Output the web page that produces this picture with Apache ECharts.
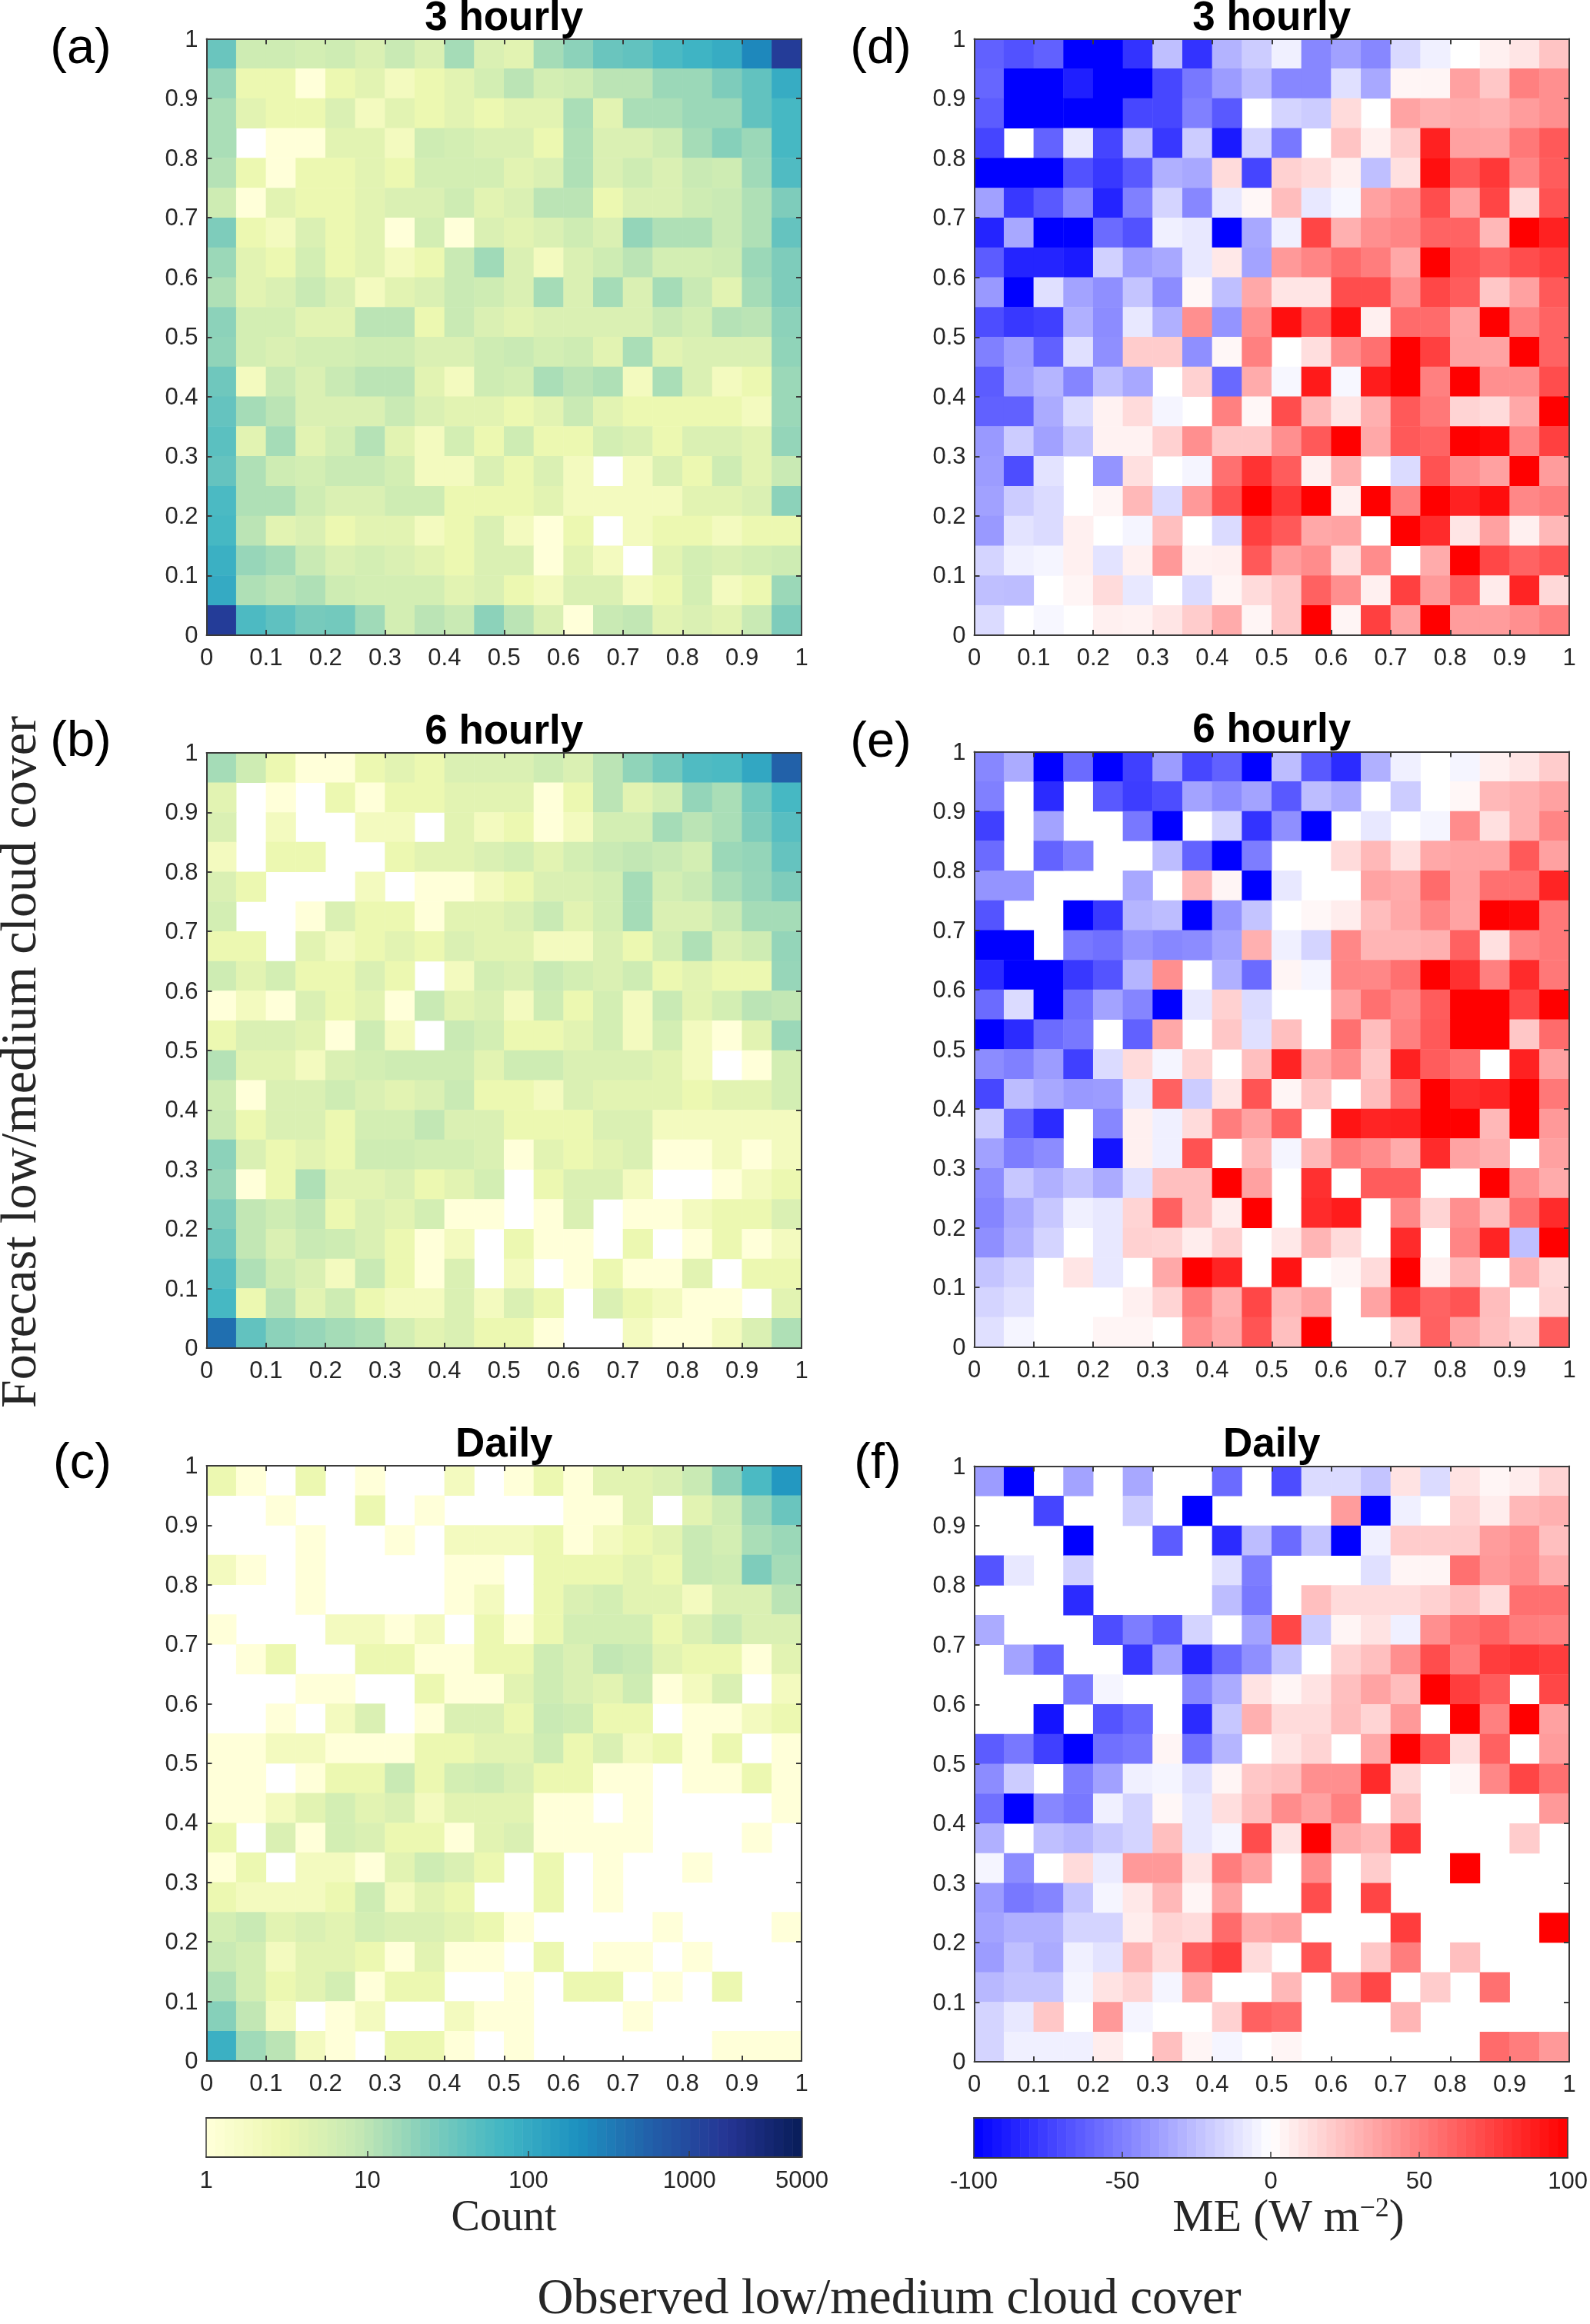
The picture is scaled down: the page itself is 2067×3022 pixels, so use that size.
<!DOCTYPE html>
<html><head><meta charset="utf-8">
<script src="https://cdn.jsdelivr.net/npm/echarts@6/dist/echarts.min.js"></script>
<style>html,body{margin:0;padding:0;background:#fff}#c{width:2067px;height:3022px}</style>
</head><body><div id="c"></div>
<script>
// bins (20 per axis, lower edges)
const binLabels = ['0','.05','.1','.15','.2','.25','.3','.35','.4','.45','.5','.55','.6','.65','.7','.75','.8','.85','.9','.95'];
const countTicks = [1,10,100,1000,5000];
const meTicks = [-100,-50,0,50,100];
const titles = ['3 hourly','6 hourly','Daily','3 hourly','6 hourly','Daily'];
const letters = ['(a)','(b)','(c)','(d)','(e)','(f)'];

// all rows run from forecast 0.95-1 (top) to 0-0.05 (bottom); 0 = empty cell
const count3h = [
[35,7,7,6,7,5,8,5,14,5,4,14,20,35,40,60,75,95,250,1400],
[17,3,3,1,3,4,2,3,4,6,10,6,7,10,10,16,16,25,40,95],
[13,4,3,3,5,2,4,3,4,3,4,4,13,4,13,13,16,16,40,65],
[13,0,1,1,4,4,2,7,6,5,5,3,12,5,5,7,14,22,16,65],
[11,3,1,3,3,4,3,6,6,6,4,5,12,5,7,5,8,7,15,55],
[7,1,4,3,3,4,5,5,7,4,5,10,10,3,5,5,7,8,12,25],
[25,3,2,5,3,4,1,6,1,5,4,5,7,5,18,12,12,8,12,38],
[16,4,3,6,3,4,2,3,8,15,5,2,5,7,10,6,6,7,16,25],
[12,4,5,8,5,2,4,5,8,7,5,14,5,14,5,14,8,4,14,25],
[20,6,6,4,4,10,10,3,8,5,4,5,5,5,5,8,6,11,10,20],
[19,6,5,6,6,7,7,5,5,7,8,6,7,4,13,4,5,5,5,19],
[32,2,8,5,8,10,10,4,2,7,6,13,10,12,2,13,5,2,3,16],
[38,14,10,5,5,5,8,5,4,4,3,4,8,4,3,3,3,3,2,16],
[45,4,14,4,6,11,4,2,6,3,7,3,3,6,5,3,5,5,4,18],
[38,12,7,6,8,8,6,2,2,5,3,5,2,0,2,5,3,7,4,8],
[60,12,12,7,5,5,7,7,3,3,3,4,2,2,2,2,4,4,5,20],
[65,10,4,5,3,4,4,2,3,5,2,1,3,0,2,3,3,2,3,3],
[85,17,14,8,5,6,5,4,3,5,5,1,4,2,0,4,6,5,6,7],
[100,12,10,12,7,6,6,6,4,5,3,2,5,5,2,3,6,2,3,16],
[1400,58,42,28,30,15,6,10,8,20,10,5,1,8,9,4,5,4,8,25]];

const count6h = [
[14,7,3,1,1,3,4,3,5,5,5,7,5,10,19,30,55,60,110,560],
[4,0,1,0,3,1,3,3,4,4,4,1,3,10,4,6,18,13,30,65],
[5,0,2,0,0,2,2,0,4,2,3,1,2,6,6,14,10,13,25,48],
[2,0,3,3,0,0,3,4,4,5,6,4,6,8,9,8,6,16,18,38],
[5,3,0,0,0,2,0,1,1,2,3,5,5,6,14,6,8,13,17,25],
[6,0,0,1,5,3,3,1,4,4,5,8,4,6,14,5,5,8,14,14],
[3,3,0,4,2,3,4,3,5,4,4,2,2,5,3,6,12,5,7,18],
[7,4,6,3,3,5,3,0,2,6,5,8,6,5,7,3,4,3,3,17],
[1,2,1,5,3,4,1,8,4,5,2,7,3,6,2,8,4,6,10,9],
[3,5,5,4,1,7,2,0,8,6,3,3,4,6,2,6,2,1,4,16],
[11,4,4,2,5,6,7,7,7,4,7,7,5,5,5,4,2,0,1,6],
[7,1,5,5,7,5,4,5,8,3,3,2,5,4,4,4,3,4,4,6],
[8,3,5,5,3,6,6,9,5,5,3,3,3,5,5,2,2,2,2,2],
[20,5,3,4,3,7,7,6,6,5,1,4,3,4,5,1,1,2,1,2],
[17,1,3,12,4,4,5,3,4,6,0,3,5,5,2,0,0,1,2,3],
[25,9,7,9,3,5,4,6,1,1,0,1,5,0,1,1,2,3,3,5],
[32,9,5,8,7,5,3,1,2,0,3,1,1,0,3,0,1,3,1,2],
[50,12,7,5,2,8,3,1,5,0,2,0,1,3,1,1,4,0,3,3],
[65,3,10,4,7,3,2,2,5,2,5,3,0,5,3,2,1,1,0,4],
[420,40,20,17,14,12,6,4,5,3,3,1,0,0,2,1,1,2,5,12]];

const countDaily = [
[3,1,0,3,0,1,0,0,2,0,1,3,1,4,4,5,8,20,60,170],
[0,0,1,0,0,3,0,1,0,0,0,0,1,1,4,0,4,7,17,35],
[0,0,0,1,0,0,1,0,2,2,2,3,1,2,3,4,8,6,13,16],
[2,1,0,1,0,0,0,0,1,1,0,3,3,3,4,3,8,7,25,14],
[0,0,0,1,0,0,0,0,1,2,0,3,5,6,4,4,2,5,5,10],
[1,0,0,0,2,2,1,2,0,3,1,3,6,6,6,3,5,8,5,5],
[0,1,3,0,0,3,3,1,1,3,3,7,5,9,8,4,3,3,1,4],
[0,0,0,1,1,0,0,3,1,1,4,7,5,4,7,1,2,5,0,2],
[0,0,1,0,2,5,0,1,5,5,3,8,7,3,3,0,1,1,2,3],
[1,1,2,2,1,1,1,3,3,4,4,7,3,5,2,3,1,3,0,1],
[1,1,0,1,3,3,8,3,6,7,5,3,3,1,1,0,1,1,3,1],
[1,1,2,4,6,4,5,2,4,4,4,1,1,0,1,0,0,0,0,1],
[3,0,5,1,6,5,3,3,1,4,5,1,1,1,1,0,0,0,1,0],
[1,3,0,2,2,1,4,7,5,3,0,3,0,1,0,0,1,0,0,0],
[3,2,2,2,3,7,2,4,3,0,0,3,0,1,0,0,0,0,0,0],
[6,8,4,5,4,6,5,5,4,3,1,0,0,0,0,1,0,0,0,1],
[8,6,2,4,4,3,1,4,1,1,0,3,0,1,1,0,1,0,0,0],
[12,6,3,4,6,1,3,3,0,0,1,0,3,3,0,1,0,3,0,0],
[22,9,2,0,1,2,0,0,2,1,1,0,0,0,1,0,0,0,0,0],
[85,15,10,2,1,0,3,3,1,0,1,0,0,0,0,0,0,1,1,1]];

const me3h = [
[-62,-68,-62,-100,-100,-80,-25,-80,-30,-20,-6,-47,-37,-47,-15,-6,0,6,10,23],
[-60,-100,-100,-88,-100,-100,-72,-53,-39,-27,-47,-47,-12,-34,4,4,37,22,50,44],
[-64,-100,-100,-100,-100,-72,-72,-50,-65,0,-17,-20,14,0,36,31,33,31,39,44],
[-73,0,-61,-9,-73,-25,-78,-20,-90,-17,-53,0,23,6,20,87,37,36,53,65],
[-100,-100,-100,-68,-78,-65,-31,-34,14,-73,18,14,6,-25,12,94,65,78,48,64],
[-37,-78,-65,-47,-86,-50,-17,-47,-9,3,26,-9,-3,37,44,70,37,73,14,68],
[-86,-34,-100,-100,-58,-68,-6,-9,-100,-34,-6,73,31,44,48,61,61,28,100,87],
[-64,-86,-86,-90,-18,-39,-34,-9,9,-36,40,48,58,51,34,100,68,61,70,75],
[-40,-100,-12,-36,-44,-23,-45,3,-25,34,10,10,70,70,44,72,64,22,37,65],
[-70,-78,-75,-31,-45,-9,-31,44,-42,44,94,64,94,6,58,58,36,100,50,61],
[-50,-39,-62,-12,-44,20,20,-44,3,50,0,13,45,56,100,75,37,36,100,61],
[-64,-37,-29,-48,-25,-34,0,18,-59,33,-3,90,-3,89,100,50,100,44,44,70],
[-62,-62,-33,-14,5,14,-4,0,50,3,70,28,10,31,65,53,17,14,34,100],
[-40,-20,-37,-23,5,5,18,44,22,22,44,65,100,34,65,61,100,97,48,75],
[-39,-70,-11,0,-42,12,0,-4,56,80,64,6,31,0,-14,68,45,37,100,39],
[-37,-20,-14,0,4,28,-14,40,68,100,78,100,6,100,50,100,87,95,47,51],
[-40,-11,-14,6,0,-4,25,0,-14,75,65,34,36,0,100,83,10,37,6,28],
[-17,-6,-4,6,-11,6,40,5,6,65,39,45,12,45,0,33,100,72,61,67],
[-25,-26,0,4,14,-9,0,-14,4,14,22,62,44,6,75,40,64,8,86,15],
[-14,0,-3,0,6,5,10,20,33,4,22,100,4,75,36,100,39,39,44,51]];

const me6h = [
[-47,-33,-100,-58,-100,-75,-39,-72,-62,-100,-26,-65,-83,-31,-6,0,-4,6,10,20],
[-50,0,-83,0,-65,-76,-70,-36,-45,-36,-65,-26,-33,0,-20,0,3,28,31,37],
[-75,0,-36,0,0,-53,-100,0,-17,-80,-44,-100,0,-9,0,-4,45,12,31,48],
[-58,0,-61,-50,0,0,-26,-61,-100,-51,0,0,14,28,12,34,36,36,65,37],
[-42,-42,0,0,0,-34,0,28,4,-100,-9,0,0,36,33,58,37,56,56,86],
[-67,0,0,-100,-78,-29,-26,-100,-42,-23,0,3,7,26,34,48,36,100,97,53],
[-100,-100,0,-53,-56,-42,-47,-45,-36,31,-6,-17,47,29,29,31,62,12,48,53],
[-83,-100,-100,-78,-67,-29,44,0,-31,-58,4,-4,48,47,56,100,81,50,83,53],
[-58,-14,-100,-56,-36,-48,-100,-9,18,-14,0,0,37,56,47,64,100,100,72,100],
[-100,-83,-58,-53,0,-62,34,0,22,-12,25,0,56,26,50,65,100,100,22,58],
[-45,-50,-39,-75,-14,14,-4,17,0,25,86,34,45,22,87,64,56,0,87,37],
[-72,-26,-34,-40,-39,-9,62,-20,10,67,4,22,0,26,56,100,83,86,100,53],
[-20,-61,-83,0,-47,6,-6,14,51,37,62,0,92,86,87,100,100,28,100,40],
[-37,-51,-45,0,-92,6,-6,68,0,28,-4,28,51,45,33,83,36,31,0,37],
[-45,-22,-31,-23,-33,-12,25,25,100,37,0,81,0,64,64,0,0,100,44,33],
[-48,-34,-22,-6,-9,17,62,25,7,100,0,83,89,0,47,17,44,26,56,83],
[-44,-31,-17,0,-9,18,17,7,18,0,9,29,14,0,83,0,48,86,-25,100],
[-23,-17,0,10,-9,0,34,100,86,0,92,0,4,14,100,6,28,0,31,15],
[-17,-12,0,0,0,6,17,51,31,72,28,36,0,36,76,61,67,26,0,17],
[-12,-4,0,0,4,4,0,44,34,67,25,100,0,0,20,62,37,25,18,64]];

const meDaily = [
[-39,-100,0,-36,0,-34,0,0,-58,0,-70,-14,-14,-23,11,-14,11,4,7,17],
[0,0,-73,0,0,-20,0,-100,0,0,0,0,39,-100,-6,0,17,7,28,31],
[0,0,0,-100,0,0,-64,0,-83,-26,-58,-23,-100,-6,20,20,20,39,44,25],
[-67,-9,0,-18,0,0,0,0,-12,-51,0,0,0,-12,4,4,56,40,45,33],
[0,0,0,-83,0,0,0,0,-26,-53,0,25,14,14,14,18,25,14,56,56],
[-33,0,0,0,-70,-51,-64,-17,0,-36,72,-20,4,11,-6,44,56,61,51,50],
[0,-36,-61,0,0,-78,-37,-86,-58,-44,-23,0,18,25,44,70,51,76,80,76],
[0,0,0,-53,-4,0,0,-47,-33,11,4,11,25,36,26,100,76,64,0,72],
[0,0,-92,0,-67,-59,0,-83,-22,31,14,14,26,17,40,0,100,50,100,37],
[-64,-53,-75,-100,-56,-53,4,-56,-29,0,10,17,0,34,100,70,13,62,0,39],
[-45,-20,0,-51,-37,-6,-4,-12,4,22,25,44,44,83,15,0,4,47,73,56],
[-56,-100,-47,-53,-6,-17,3,-9,13,25,45,37,50,0,26,0,0,0,0,40],
[-31,0,-25,-29,-22,-17,25,-9,-4,70,11,100,33,28,80,0,0,0,20,0],
[-4,-45,0,14,-8,40,40,11,51,37,0,45,0,20,0,0,100,0,0,0],
[-39,-53,-48,-23,-4,9,28,4,36,0,0,70,0,73,0,0,0,0,0,0],
[-36,-31,-31,-17,-17,7,17,14,58,33,37,0,0,0,76,0,0,0,0,100],
[-39,-25,-33,-6,-11,29,14,64,76,14,0,68,0,22,51,0,25,0,0,0],
[-28,-23,-23,-4,11,17,-4,33,0,0,28,0,45,72,0,20,0,56,0,0],
[-17,-9,22,0,40,-4,0,0,18,62,58,0,0,0,29,0,0,0,0,0],
[-17,-6,-6,-6,7,0,25,4,-4,0,4,0,0,0,0,0,0,58,51,40]];

const panelData = [count3h,count6h,countDaily,me3h,me6h,meDaily];
const panelBoxes = [
 {l:268.5,t:50.5,r:1042,b:826},{l:268.5,t:979,r:1042,b:1753},{l:268.5,t:1906,r:1042,b:2680},
 {l:1266.5,t:50.5,r:2040,b:826},{l:1266.5,t:977.5,r:2040,b:1751.5},{l:1266.5,t:1906.5,r:2040,b:2681}];
const titleBase = [-2,925.5,1852.5,-2,923.5,1852.5];
const letterPos = [[105,32],[105,933],[107,1872],[1145,32],[1145,934],[1141,1872]];
const ylgnbu = ['#ffffd9','#edf8b1','#c7e9b4','#7fcdbb','#41b6c4','#1d91c0','#225ea8','#253494','#081d58'];
const bwr = ['#0000ff','#ffffff','#ff0000'];
const LOGMAX = Math.log10(5000);
const INK = '#262626', LINE = '#3a3a3a';
const fmt = v => String(+(+v).toFixed(1));

const grid=[], xAxis=[], yAxis=[], series=[], title=[];
function hiddenCat(g,data){ return {type:'category',gridIndex:g,data,show:false,boundaryGap:true}; }
function boxAxis(g,pos,labels){
  const label={show:labels,color:INK,fontFamily:'Liberation Sans',fontSize:31,
      margin:pos==='left'?11:15,formatter:fmt,hideOverlap:false,showMinLabel:true,showMaxLabel:true};
  if(pos==='left'){ label.verticalAlign='top'; label.lineHeight=3; }
  return {type:'value',gridIndex:g,position:pos,min:0,max:1,interval:0.1,z:6,
    axisLine:{show:true,onZero:false,lineStyle:{color:LINE,width:2}},
    axisTick:{show:true,inside:true,length:7,lineStyle:{color:LINE,width:2}},
    splitLine:{show:false},axisLabel:label};
}
panelData.forEach((rows,g)=>{
  const b=panelBoxes[g];
  grid.push({left:b.l,top:b.t,width:b.r-b.l,height:b.b-b.t,containLabel:false,show:false});
  xAxis.push(hiddenCat(g,binLabels),boxAxis(g,'bottom',true),boxAxis(g,'top',false));
  yAxis.push(hiddenCat(g,binLabels),boxAxis(g,'left',true),boxAxis(g,'right',false));
  const data=[];
  rows.forEach((row,r)=>row.forEach((v,c)=>{
    if(v!==0) data.push([c,19-r,g<3?Math.log10(v):v]);
  }));
  series.push({type:'heatmap',xAxisIndex:3*g,yAxisIndex:3*g,data,silent:true,progressive:0,
    itemStyle:{borderWidth:0},emphasis:{disabled:true}});
  title.push({text:titles[g],left:(b.l+b.r)/2,top:titleBase[g],textAlign:'center',padding:0,
    textStyle:{fontFamily:'Liberation Sans',fontWeight:'bold',fontSize:53,color:'#000'}});
  title.push({text:letters[g],left:letterPos[g][0],top:letterPos[g][1],textAlign:'center',padding:0,
    textStyle:{fontFamily:'Liberation Sans',fontWeight:'normal',fontSize:65,color:'#000'}});
});

// colour bars: a 1-row heatmap per bar, with ticks on a value axis
const cbSteps = Array.from({length:64},(_,i)=>String(i));
const bars = [
 {l:268,r:1042.5,t:2754,b:2805,min:0,max:LOGMAX,ticks:countTicks.map(Math.log10),minor:[10,100,1000].map(Math.log10),
  label:v=>String(Math.round(Math.pow(10,v)))},
 {l:1266,r:2040.5,t:2754,b:2806,min:-100,max:100,ticks:meTicks,minor:[-50,0,50],label:v=>String(Math.round(v))}];
bars.forEach((c,i)=>{
  const g=6+i;
  grid.push({left:c.l,top:c.t,width:c.r-c.l,height:c.b-c.t,show:false});
  xAxis.push(hiddenCat(g,cbSteps),
   {type:'value',gridIndex:g,position:'bottom',min:c.min,max:c.max,z:6,
    axisLine:{show:true,onZero:false,lineStyle:{color:LINE,width:2}},
    axisTick:{show:true,inside:true,length:8,customValues:c.minor,lineStyle:{color:LINE,width:1.5}},
    splitLine:{show:false},
    axisLabel:{show:true,customValues:c.ticks,color:INK,fontFamily:'Liberation Sans',fontSize:31,margin:16,formatter:c.label,hideOverlap:false}},
   {type:'value',gridIndex:g,position:'top',min:c.min,max:c.max,z:6,
    axisLine:{show:true,onZero:false,lineStyle:{color:LINE,width:2}},axisTick:{show:false},axisLabel:{show:false},splitLine:{show:false}});
  yAxis.push(hiddenCat(g,['a']),
   {type:'value',gridIndex:g,position:'left',min:0,max:1,z:6,axisLine:{show:true,onZero:false,lineStyle:{color:LINE,width:1.5}},axisTick:{show:false},axisLabel:{show:false},splitLine:{show:false}},
   {type:'value',gridIndex:g,position:'right',min:0,max:1,z:6,axisLine:{show:true,onZero:false,lineStyle:{color:LINE,width:1.5}},axisTick:{show:false},axisLabel:{show:false},splitLine:{show:false}});
  series.push({type:'heatmap',xAxisIndex:3*g,yAxisIndex:3*g,silent:true,progressive:0,emphasis:{disabled:true},
    data:cbSteps.map((_,k)=>[k,0,c.min+(k+0.5)/64*(c.max-c.min)])});
});

const serifFont='Liberation Serif';
title.push({text:'Count',left:655,top:2857,textAlign:'center',padding:0,
  textStyle:{fontFamily:serifFont,fontWeight:'normal',fontSize:56,color:INK}});
title.push({text:'ME (W m{s|\u22122})',left:1675,top:2855,textAlign:'center',padding:0,
  textStyle:{fontFamily:serifFont,fontWeight:'normal',fontSize:60,color:INK,
    rich:{s:{fontFamily:serifFont,fontSize:36,verticalAlign:'top',color:INK,padding:[0,0,22,0]}}}});
title.push({text:'Observed low/medium cloud cover',left:1156,top:2958,textAlign:'center',padding:0,
  textStyle:{fontFamily:serifFont,fontWeight:'normal',fontSize:65,color:INK}});

const seriesCount=[0,1,2,6], seriesMe=[3,4,5,7];
const chart=echarts.init(document.getElementById('c'),null,{renderer:'canvas',width:2067,height:3022});
chart.setOption({
  animation:false,backgroundColor:'#fff',grid,xAxis,yAxis,series,title,
  visualMap:[
   {type:'continuous',show:false,min:0,max:LOGMAX,seriesIndex:seriesCount,dimension:2,inRange:{color:ylgnbu}},
   {type:'continuous',show:false,min:-100,max:100,seriesIndex:seriesMe,dimension:2,inRange:{color:bwr}}],
  graphic:[{type:'text',x:62,y:1381,rotation:Math.PI/2,z:10,
    style:{text:'Forecast low/medium cloud cover',fill:INK,font:'66px "Liberation Serif"',textAlign:'center',textVerticalAlign:'bottom'}}]
});
</script></body></html>
